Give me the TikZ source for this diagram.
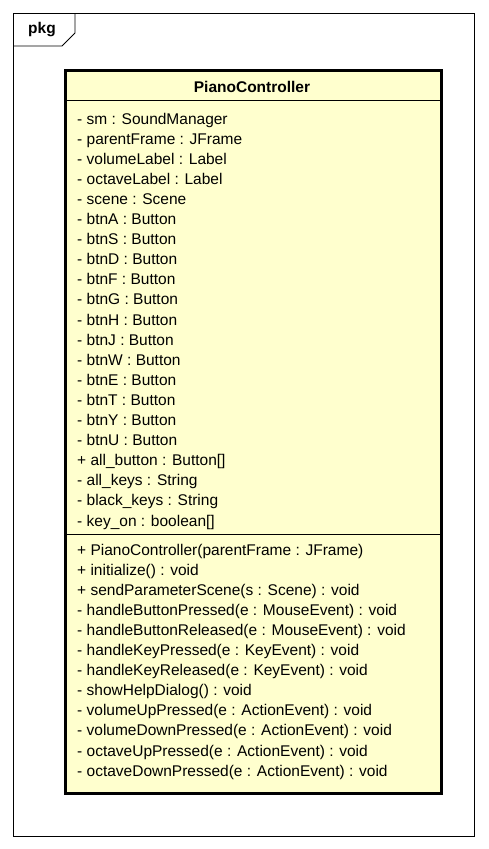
\documentclass[tikz,border=0pt]{standalone}
\usepackage{fontspec}
\setmainfont{Liberation Sans}
\usetikzlibrary{positioning}
\definecolor{classyellow}{RGB}{255,255,206}

\begin{document}
\begin{tikzpicture}[x=1pt, y=-1pt,
    pkgframe/.style={draw=black, line width=0.8pt},
    classbox/.style={
      rectangle, draw=black, line width=2.8pt, fill=classyellow,
      minimum width=376pt, minimum height=723pt, inner sep=0pt
    },
    sepline/.style={draw=black, line width=0.9pt},
    title/.style={font=\bfseries\fontsize{15.5}{18}\selectfont, inner sep=0pt},
    members/.style={
      font=\fontsize{15.5}{20.1}\selectfont, align=left,
      inner sep=0pt, anchor=north west
    }
  ]
    \useasboundingbox[fill=white] (0,0) rectangle (488,849);
    % package frame with its tab
    \draw[pkgframe] (13,13) rectangle (474,836);
    \draw[pkgframe] (13,46) -- (62,46) -- (75,33) -- (75,13);
    \node[title, anchor=base west] (pkg) at (28,33) {pkg};
    % the class
    \node[classbox, anchor=north west] (pc) at (64,69) {};
    \node[title, anchor=base] (pcname) at (252,92) {PianoController};
    \coordinate (sep1) at (64,100);
    \coordinate (sep2) at (64,534);
    \draw[sepline] (sep1) -- (sep1 -| pc.east);
    \draw[sepline] (sep2) -- (sep2 -| pc.east);
    \node[members] (attrs) at (77,112.6) {%
      - sm : SoundManager\\
      - parentFrame : JFrame\\
      - volumeLabel : Label\\
      - octaveLabel : Label\\
      - scene : Scene\\
      - btnA : Button\\
      - btnS : Button\\
      - btnD : Button\\
      - btnF : Button\\
      - btnG : Button\\
      - btnH : Button\\
      - btnJ : Button\\
      - btnW : Button\\
      - btnE : Button\\
      - btnT : Button\\
      - btnY : Button\\
      - btnU : Button\\
      + all\_button : Button[]\\
      - all\_keys : String\\
      - black\_keys : String\\
      - key\_on : boolean[]};
    \node[members] (ops) at (77,543.6) {%
      + PianoController(parentFrame : JFrame)\\
      + initialize() : void\\
      + sendParameterScene(s : Scene) : void\\
      - handleButtonPressed(e : MouseEvent) : void\\
      - handleButtonReleased(e : MouseEvent) : void\\
      - handleKeyPressed(e : KeyEvent) : void\\
      - handleKeyReleased(e : KeyEvent) : void\\
      - showHelpDialog() : void\\
      - volumeUpPressed(e : ActionEvent) : void\\
      - volumeDownPressed(e : ActionEvent) : void\\
      - octaveUpPressed(e : ActionEvent) : void\\
      - octaveDownPressed(e : ActionEvent) : void};
  \end{tikzpicture}
\end{document}
